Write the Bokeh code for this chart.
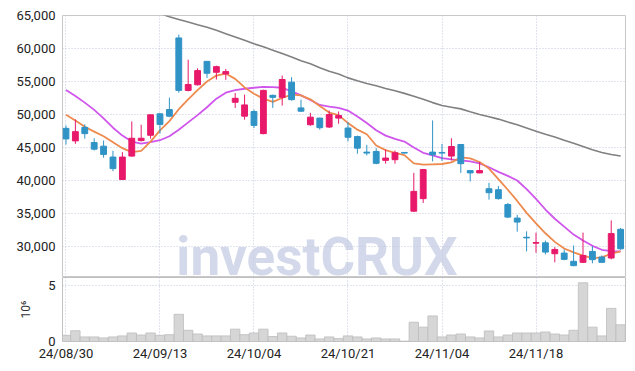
from bokeh.plotting import figure
from bokeh.layouts import column
from bokeh.models import ColumnDataSource, FixedTicker, NumeralTickFormatter, Range1d
from bokeh.embed import file_html
from bokeh.resources import INLINE
from bokeh.core.properties import value

dates = ["24/08/30", "24/09/02", "24/09/03", "24/09/04", "24/09/05", "24/09/06", "24/09/09", "24/09/10",
         "24/09/11", "24/09/12", "24/09/13", "24/09/19", "24/09/20", "24/09/23", "24/09/24", "24/09/25",
         "24/09/26", "24/09/27", "24/09/30", "24/10/02", "24/10/04", "24/10/07", "24/10/08", "24/10/10",
         "24/10/11", "24/10/14", "24/10/15", "24/10/16", "24/10/17", "24/10/18", "24/10/21", "24/10/22",
         "24/10/23", "24/10/24", "24/10/25", "24/10/28", "24/10/29", "24/10/30", "24/10/31", "24/11/01",
         "24/11/04", "24/11/05", "24/11/06", "24/11/07", "24/11/08", "24/11/11", "24/11/12", "24/11/13",
         "24/11/14", "24/11/15", "24/11/18", "24/11/19", "24/11/20", "24/11/21", "24/11/22", "24/11/25",
         "24/11/26", "24/11/27", "24/11/28", "24/11/29"]

opens = [47900, 46000, 48050, 45750, 45200, 43550, 40150, 43700, 46050, 46850,
         50100, 50750, 61600, 53650, 54500, 58050, 56400, 56150, 51850, 49750,
         50450, 47100, 52900, 52600, 54900, 51000, 48450, 49450, 48100, 49450,
         47950, 46650, 44300, 44400, 43050, 43150, 44250, 35350, 37250, 44300,
         44250, 43700, 45450, 41500, 41150, 38750, 38600, 36350, 34300, 31400,
         30500, 30550, 28900, 29000, 27750, 27600, 29250, 28400, 28250, 32600]
highs = [48350, 49250, 48500, 46400, 46050, 44500, 44300, 48950, 48450, 50000,
         50200, 52550, 62100, 58300, 57000, 58100, 57400, 56900, 53250, 53000,
         50750, 53750, 53000, 55900, 55650, 52250, 50250, 49500, 50600, 50450,
         48850, 46800, 45400, 44900, 44700, 44550, 44300, 41150, 41750, 49100,
         45550, 46400, 45500, 41600, 42800, 39650, 39150, 36600, 34800, 32300,
         32100, 30900, 29900, 29550, 30150, 32100, 30050, 28650, 33950, 32800]
lows = [45450, 45550, 46350, 44550, 43450, 41400, 40100, 43600, 45900, 46350,
        47100, 49600, 53300, 53500, 54400, 55550, 55300, 55250, 51000, 49200,
        47950, 47000, 51000, 51350, 52100, 50400, 48300, 47700, 47950, 48600,
        45950, 44050, 43800, 42450, 42550, 42550, 44100, 35300, 36600, 42900,
        42950, 43050, 41150, 39850, 41100, 37100, 37100, 34300, 32250, 29250,
        29050, 28800, 27600, 27900, 27000, 27500, 27450, 27550, 28050, 29500]
closes = [46300, 47400, 47100, 44750, 43950, 41800, 43550, 46400, 46400, 49950,
          48500, 49750, 53650, 54550, 56650, 56250, 57250, 56500, 52450, 51450,
          48350, 53650, 52600, 55300, 52250, 50500, 49600, 48000, 50000, 49850,
          46550, 44900, 44150, 42600, 43400, 44200, 44150, 38350, 41650, 43900,
          44150, 45150, 42550, 41150, 41500, 38150, 37250, 34450, 33700, 31300,
          30600, 29150, 29550, 28050, 27100, 28650, 28000, 27600, 31950, 29650]
volumes = [550000, 960000, 410000, 410000, 320000, 410000, 500000, 760000, 580000, 760000,
           550000, 610000, 2420000, 1000000, 670000, 500000, 500000, 500000, 1100000, 610000,
           760000, 1100000, 440000, 760000, 470000, 320000, 580000, 230000, 410000, 260000,
           500000, 410000, 230000, 320000, 230000, 230000, 30000, 1720000, 1280000, 2280000,
           410000, 580000, 670000, 410000, 320000, 940000, 410000, 580000, 760000, 760000,
           760000, 850000, 670000, 580000, 1000000, 5230000, 1280000, 500000, 2950000, 1490000]

ma_short = [49950, 49100, 48150, 47400, 46700, 45800, 44900, 44300, 44500, 45900,
            47600, 49000, 50800, 52300, 53700, 55000, 55900, 56200, 55400, 54100,
            53150, 52400, 51900, 52500, 53000, 52900, 52300, 51300, 50300, 49900,
            48700, 47700, 47000, 45300, 44600, 44200, 43850, 42600, 42400, 42450,
            42500, 42750, 43500, 43350, 42800, 41800, 40200, 38600, 36900, 35100,
            33500, 32000, 30700, 29700, 29100, 28600, 28250, 28350, 28900, 29250]
ma_mid = [53700, 52800, 51800, 50700, 49400, 48000, 46800, 45900, 45600, 45800,
          46100, 46700, 47700, 48800, 49900, 51100, 52400, 53300, 53700, 53900,
          54050, 54200, 54150, 54050, 53500, 52900, 52200, 51450, 51200, 51000,
          50600, 49700, 48700, 47600, 46800, 46300, 45900, 45000, 44200, 43800,
          43400, 43200, 43050, 42900, 42600, 42000, 41300, 40700, 40000, 38700,
          37200, 35600, 34200, 33000, 31800, 30900, 30100, 29500, 29300, 29250]
nan = float("nan")
ma_long = [nan] * 10 + [
           65300, 64800, 64400, 64000, 63600, 63230, 62750, 62250, 61750, 61250,
           60710, 60250, 59750, 59250, 58700, 58150, 57680, 57100, 56550, 56150,
           55550, 55100, 54700, 54350, 53950, 53600, 53200, 52750, 52300, 51800,
           51350, 51100, 50850, 50400, 50000, 49650, 49300, 48850, 48440, 47950,
           47450, 47000, 46600, 46100, 45650, 45150, 44650, 44250, 43950, 43700]

price_ticks = [30000, 35000, 40000, 45000, 50000, 55000, 60000, 65000]
date_ticks = [0, 10, 20, 30, 40, 50]
vol_ticks = [0, 5000000]

UP = "#e8196a"
DOWN = "#2f93c6"
FONT = "Roboto"
GRID = "#c3c8dc"

idx = list(range(len(dates)))
src = ColumnDataSource(dict(
    x=idx, high=highs, low=lows,
    top=[max(o, c) for o, c in zip(opens, closes)],
    bottom=[min(o, c) for o, c in zip(opens, closes)],
    color=[UP if c >= o else DOWN for o, c in zip(opens, closes)],
    vol=volumes, ma_s=ma_short, ma_m=ma_mid, ma_l=ma_long,
))

x_range = Range1d(-0.37, 59.52)

p = figure(width=627, height=277, x_range=x_range, y_range=Range1d(25300, 65000),
           output_backend="svg", toolbar_location=None, x_axis_location=None,
           min_border_left=62, min_border_right=2, min_border_top=15, min_border_bottom=0)
p.outline_line_color = "#c8c8c8"
p.background_fill_color = "white"
p.border_fill_color = "white"

p.yaxis.ticker = FixedTicker(ticks=price_ticks)
p.yaxis.formatter = NumeralTickFormatter(format="0,0")
p.yaxis.axis_line_color = None
p.yaxis.major_tick_line_color = None
p.yaxis.minor_tick_line_color = None
p.yaxis.major_tick_out = 0
p.yaxis.minor_tick_out = 0
p.yaxis.major_label_standoff = 7
p.yaxis.major_label_text_font = FONT
p.yaxis.major_label_text_font_size = "13px"
p.yaxis.major_label_text_color = "#222222"

p.ygrid.ticker = FixedTicker(ticks=price_ticks)
p.xgrid.ticker = FixedTicker(ticks=date_ticks)
for g in (p.xgrid, p.ygrid):
    g.grid_line_color = GRID
    g.grid_line_dash = "1 2"
    g.grid_line_width = 1

# watermark (drawn beneath the grid)
p.text(x=[26.7], y=[28350], text=["investCRUX"], text_font=value(FONT),
       text_font_style="bold", text_font_size="53px", text_color="#d3d9ea",
       text_align="center", text_baseline="alphabetic", level="image")

p.line("x", "ma_l", source=src, line_color="#808080", line_width=1.6)
p.line("x", "ma_m", source=src, line_color="#cf55ec", line_width=1.8)
p.line("x", "ma_s", source=src, line_color="#ee8a4e", line_width=1.8)

p.segment(x0="x", y0="high", x1="x", y1="low", source=src, line_color="color", line_width=1)
p.vbar(x="x", top="top", bottom="bottom", width=0.62, source=src,
       fill_color="color", line_color="color", line_width=1)

v = figure(width=627, height=86, x_range=x_range, y_range=Range1d(0, 5700000),
           output_backend="svg", toolbar_location=None,
           min_border_left=62, min_border_right=2, min_border_top=0, min_border_bottom=21)
v.outline_line_color = "#c0c0c0"
v.vbar(x="x", top="vol", width=1.0, source=src, fill_color="#d6d6d6", line_color="#bcbcbc",
       line_width=0.8)

v.xaxis.ticker = FixedTicker(ticks=date_ticks)
v.xaxis.major_label_overrides = {i: dates[i] for i in date_ticks}
v.xaxis.axis_line_color = None
v.xaxis.major_tick_line_color = None
v.xaxis.minor_tick_line_color = None
v.xaxis.major_tick_out = 0
v.xaxis.minor_tick_out = 0
v.xaxis.major_label_standoff = 4
v.xaxis.major_label_text_font = FONT
v.xaxis.major_label_text_font_size = "13px"
v.xaxis.major_label_text_color = "#222222"

v.yaxis.ticker = FixedTicker(ticks=vol_ticks)
v.yaxis.major_label_overrides = {0: "0", 5000000: "5"}
v.yaxis.axis_line_color = None
v.yaxis.major_tick_line_color = None
v.yaxis.minor_tick_line_color = None
v.yaxis.major_tick_out = 0
v.yaxis.minor_tick_out = 0
v.yaxis.major_label_standoff = 7
v.yaxis.major_label_text_font = FONT
v.yaxis.major_label_text_font_size = "13px"
v.yaxis.major_label_text_color = "#222222"
v.yaxis.axis_label = "10⁶"
v.yaxis.axis_label_text_font = FONT
v.yaxis.axis_label_text_font_style = "normal"
v.yaxis.axis_label_text_font_size = "12px"
v.yaxis.axis_label_text_color = "#333333"
v.yaxis.axis_label_standoff = 12

v.ygrid.ticker = FixedTicker(ticks=[5000000])
v.xgrid.ticker = FixedTicker(ticks=date_ticks)
for g in (v.xgrid, v.ygrid):
    g.grid_line_color = GRID
    g.grid_line_dash = "1 2"
    g.grid_line_width = 1

layout = column(p, v, spacing=0)
open("out.html", "w").write(file_html(layout, INLINE))
